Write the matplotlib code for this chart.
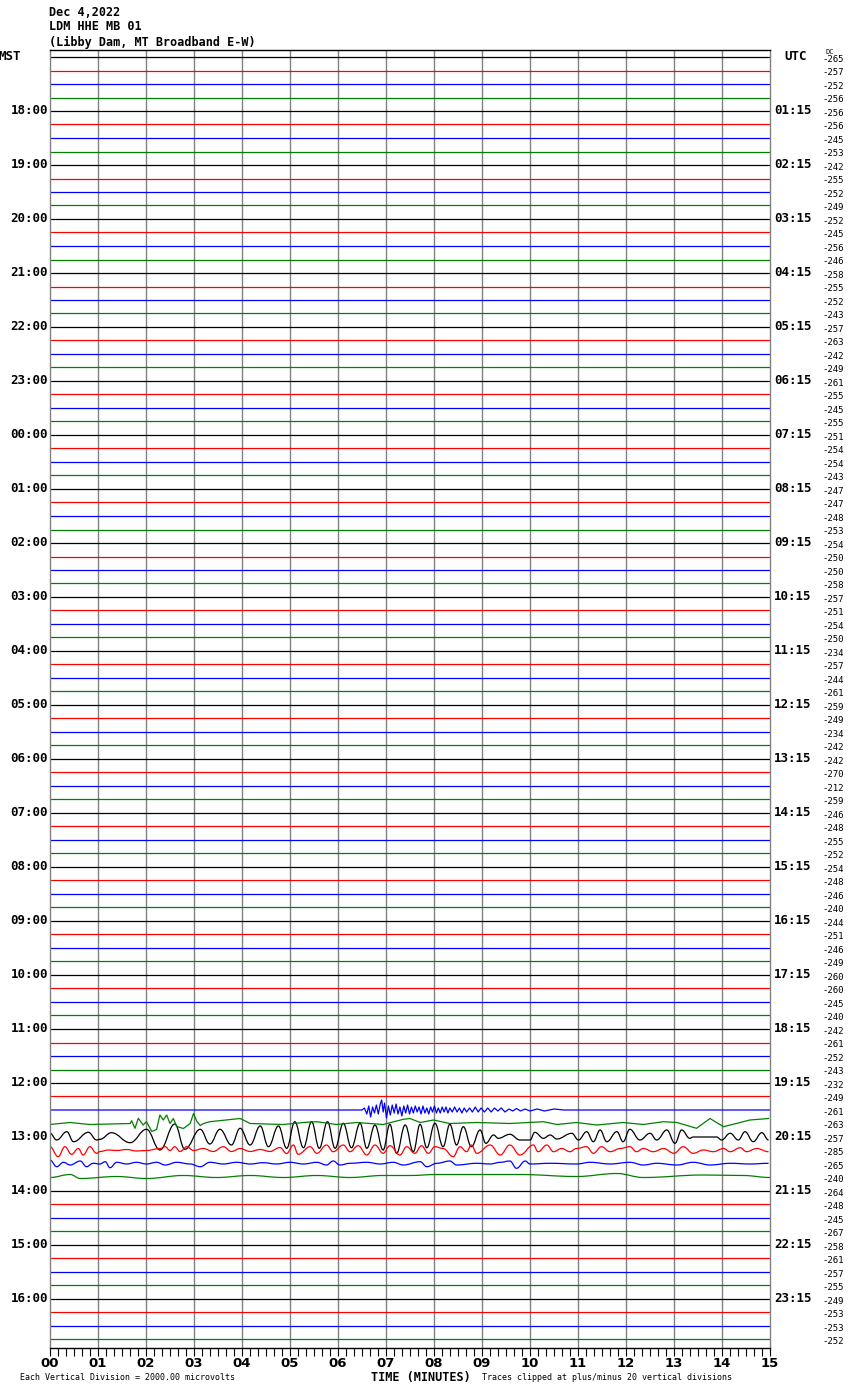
import matplotlib
matplotlib.use('Agg')
import matplotlib.pyplot as plt
import matplotlib.transforms as mtransforms
from matplotlib.path import Path
from matplotlib.patches import PathPatch
import numpy as np

# station / header text
title_lines = ['Dec 4,2022', 'LDM HHE MB 01', '(Libby Dam, MT Broadband E-W)']

n_rows = 96
trace_colors = ['black', 'red', 'blue', 'green']

left_labels = ['18:00', '19:00', '20:00', '21:00', '22:00', '23:00', '00:00', '01:00',
               '02:00', '03:00', '04:00', '05:00', '06:00', '07:00', '08:00', '09:00',
               '10:00', '11:00', '12:00', '13:00', '14:00', '15:00', '16:00']
right_labels = ['01:15', '02:15', '03:15', '04:15', '05:15', '06:15', '07:15', '08:15',
                '09:15', '10:15', '11:15', '12:15', '13:15', '14:15', '15:15', '16:15',
                '17:15', '18:15', '19:15', '20:15', '21:15', '22:15', '23:15']

# DC offset printed at the right of every trace
dc_values = [-265, -257, -252, -256, -256, -256, -245, -253, -242, -255, -252, -249,
             -252, -245, -256, -246, -258, -255, -252, -243, -257, -263, -242, -249,
             -261, -255, -245, -255, -251, -254, -254, -243, -247, -247, -248, -253,
             -254, -250, -250, -258, -257, -251, -254, -250, -234, -257, -244, -261,
             -259, -249, -234, -242, -242, -270, -212, -259, -246, -248, -255, -252,
             -254, -248, -246, -240, -244, -251, -246, -249, -260, -260, -245, -240,
             -242, -261, -252, -243, -232, -249, -261, -263, -257, -285, -265, -240,
             -264, -248, -245, -267, -258, -261, -257, -255, -249, -253, -253, -252]

blue_1230_t = [0, 6.50, 6.55, 6.60, 6.64, 6.68, 6.72, 6.76, 6.80, 6.84, 6.88, 6.91, 6.94,
               6.97, 7.01, 7.05, 7.09, 7.13, 7.17, 7.21, 7.25, 7.29, 7.33, 7.37, 7.41,
               7.45, 7.49, 7.53, 7.57, 7.61, 7.65, 7.69, 7.73, 7.77, 7.81, 7.85, 7.89,
               7.93, 7.97, 8.01, 8.05, 8.09, 8.13, 8.17, 8.21, 8.25, 8.29, 8.33, 8.38,
               8.43, 8.48, 8.53, 8.58, 8.63, 8.68, 8.74, 8.80, 8.86, 8.92, 8.98, 9.05,
               9.12, 9.19, 9.26, 9.33, 9.40, 9.48, 9.56, 9.64, 9.72, 9.80, 9.90, 10.0,
               10.15, 10.3, 10.5, 10.7, 15]
blue_1230_a = [0, 0, 2, -4, 4, -7, 3, -3, 5, -4, 6, 10, -2,
               7, -8, 4, -5, 5, -3, 6, -4, 3, -6, 4, -3,
               5, -4, 3, -3, 4, -2, 3, -4, 4, -3, 2, -4,
               3, -2, 4, -3, 2, -3, 3, -2, 3, -3, 2, -2,
               3, -2, 2, -3, 2, -2, 2, -2, 3, -2, 2, -2,
               2, -2, 2, -1, 2, -2, 1, -1, 1.5, -1, 1, -1,
               1, -1, 1, 0, 0]

green_1245_t = [0, 0.42, 0.83, 1.67, 1.70, 1.77, 1.84, 1.94, 2.01, 2.12, 2.22, 2.29, 2.36,
                2.43, 2.50, 2.57, 2.64, 2.78, 2.92, 2.99, 3.06, 3.13, 3.20, 3.33, 3.96,
                4.17, 4.86, 5.28, 5.56, 5.97, 6.39, 6.94, 7.36, 7.50, 7.71, 7.99, 8.33,
                8.89, 9.58, 10.28, 10.56, 10.97, 11.39, 11.94, 12.36, 12.78, 13.06, 13.47,
                13.75, 14.03, 14.30, 14.58, 14.97]
green_1245_a = [-1, 1, -1, 0, 2.8, -4.8, 5.2, -1.5, 1.8, -8, -6, 8.5, 3.5,
                8.5, 0, 5, -3, -5, 0, 10, 2, -2, 0, 1.8, 5,
                0, -1, 1, 1.8, -1, 1, -1, 4.2, 5, 1, 3.5, 0,
                1, 0, 1.8, -1, 1, -1.5, 1, -1, 1.8, 1, -4.8,
                5, -3.2, 0, 3.5, 5]

black_1300_t = [0, 0.14, 0.35, 0.49, 0.80, 0.97, 1.04, 1.28, 1.67, 2.01, 2.29, 2.60, 2.81,
                3.13, 3.33, 3.54, 3.78, 3.96, 4.17, 4.38, 4.55, 4.76, 4.93, 5.10, 5.28,
                5.45, 5.61, 5.78, 5.94, 6.11, 6.28, 6.46, 6.60, 6.77, 6.94, 7.08, 7.22,
                7.40, 7.57, 7.71, 7.85, 8.02, 8.19, 8.33, 8.47, 8.61, 8.78, 8.96, 9.08,
                9.24, 9.34, 9.58, 9.79, 10.0, 10.10, 10.28, 10.42, 10.56, 10.87, 11.01,
                11.18, 11.32, 11.46, 11.60, 11.81, 11.94, 12.08, 12.29, 12.50, 12.64,
                12.85, 13.02, 13.16, 13.33, 13.40, 13.89, 13.99, 14.17, 14.34, 14.48,
                14.65, 14.83, 14.97]
black_1300_a = [3.7, -3, 5.3, -4.7, 4.7, -3, -2.3, 4.3, -5.7, 7.7, -13, 13, -12.3,
                7.7, -7, 7.7, -8, 8.7, -8, 11, -9.7, 11, -11.3, 15.3, -10.7,
                15.3, -11.3, 15.3, -11.3, 13.7, -10.7, 13.7, -11.3, 12, -13, 12.7, -16.3,
                12, -14.7, 12.7, -10.7, 13.7, -9.7, 12.7, -8, 10.3, -9.7, 7, -6.3,
                2, -1.3, 2.7, -3, -3, 4.7, -1.3, 2, -2, 3.7, -3,
                5.3, -4.7, 7, -4.7, 5.3, -4.7, 7.7, -3, 3.7, -3,
                7, -6.3, 7, -1.3, 0, 0, -3, 3.7, -3, 5.3,
                -4.7, 4.3, -3]

red_1315_t = [0, 0.17, 0.31, 0.45, 0.59, 0.69, 0.83, 0.97, 1.04, 1.22, 1.39, 1.60, 1.80,
              2.01, 2.29, 2.40, 2.50, 2.60, 2.71, 2.85, 2.99, 3.19, 3.40, 3.61, 3.78,
              3.96, 4.17, 4.38, 4.58, 4.79, 4.93, 5.07, 5.17, 5.42, 5.56, 5.76, 5.90,
              6.11, 6.25, 6.42, 6.60, 6.77, 6.94, 7.08, 7.29, 7.43, 7.60, 7.74, 7.88,
              8.02, 8.19, 8.40, 8.54, 8.68, 8.78, 8.89, 9.17, 9.38, 9.58, 9.79, 10.07,
              10.17, 10.35, 10.49, 10.66, 10.83, 10.97, 11.18, 11.32, 11.49, 11.67,
              11.88, 12.08, 12.22, 12.36, 12.57, 12.78, 13.00, 13.19, 13.40, 13.61,
              13.82, 14.03, 14.17, 14.38, 14.51, 14.72, 14.97]
red_1315_a = [3.8, -6.2, 3.8, -3.8, 2, -4.5, 3.8, -2.8, -1, 0.5, 0, 1, -0.5,
              0, 2, 3.8, 0, 3.8, -1, 3.8, 0, 2, -1, 3.8, -1,
              2, -1, 1, -1, 3, -3, 5.5, -3.8, 3.8, -2.8, 5.5, -1.2,
              5.5, -1.2, 4.8, -4.5, 5.5, -2.8, 4.8, -4.5, 3.8, -2.8, 4.8, -2.8,
              3.8, 2, -6.2, 3.8, -1.2, 5.5, -2.8, 5.5, -4.5, 5.5, -4.5, 5.5,
              -1.2, 5.5, -1.2, 2, -1.2, 2, 3.8, -2.8, 3.8, -1.2,
              2, 3.8, -1.2, 2, -1.2, 2, -2.8, 3.8, -2.8, 0.5,
              -1.2, 2, -1.2, 2.8, -1.2, 2, -1.2]

blue_1330_t = [0, 0.14, 0.28, 0.42, 0.63, 0.76, 0.90, 1.04, 1.15, 1.25, 1.39, 1.60, 1.80,
               2.01, 2.22, 2.40, 2.64, 2.92, 3.13, 3.33, 3.61, 3.89, 4.17, 4.44, 4.72,
               5.00, 5.28, 5.56, 5.76, 5.90, 6.04, 6.25, 6.60, 6.88, 7.15, 7.36, 7.71,
               7.85, 8.06, 8.33, 8.47, 8.89, 9.17, 9.38, 9.58, 9.72, 9.90, 10.0, 10.42,
               10.97, 11.25, 11.67, 12.08, 12.36, 12.64, 13.06, 13.40, 13.75, 14.17,
               14.58, 14.97]
blue_1330_a = [4, -2.7, 1.7, -1, 3, -2.7, 0.7, 0, 2.3, -3.7, 1.7, 0, 1.7,
               0, 1.7, -1, 1.7, 0, -2.7, 1.7, 0, 1.7, 0, 1.3, 0,
               1.7, 0, 1.7, -1, 3, -1, 0.7, 1.7, 0, 1.7, -1, 2.3,
               -2.7, 0.7, 3, -1, 0.7, 0, 1.7, 3, -4.3, 3, 0, 0.7,
               0, 1.7, 0, 1.7, -1, 0.7, -1, 1.7, -1, 0.7,
               0, 0.7]

green_1345_t = [0, 0.42, 0.63, 1.39, 2.01, 2.78, 3.47, 4.17, 4.86, 5.56, 6.25, 6.94, 7.50,
                8.06, 9.79, 10.97, 11.81, 12.36, 13.61, 14.44, 15]
green_1345_a = [0, 3, -1, 1, -1, 2, 0, 2, 0, 2, 0, 2, 2,
                3, 3, 1, 4, 0, 2.5, 2, 0]

# row (0 = 17:00 MST) -> (times, amplitudes, smooth?)
event_rows = {78: (blue_1230_t, blue_1230_a, False),
              79: (green_1245_t, green_1245_a, False),
              80: (black_1300_t, black_1300_a, True),
              81: (red_1315_t, red_1315_a, True),
              82: (blue_1330_t, blue_1330_a, True),
              83: (green_1345_t, green_1345_a, True)}

W, H = 850, 1390
fig = plt.figure(figsize=(W / 100, H / 100), dpi=100)
row_px = 13.5
ax = fig.add_axes([50 / W, 1 - 1348 / H, 720 / W, (1348 - 50) / H])


def smooth_path(t, y):
    # bezier through the turning points, flat tangent at each one
    verts = [(t[0], y[0])]
    codes = [Path.MOVETO]
    for i in range(len(t) - 1):
        dt = t[i + 1] - t[i]
        verts += [(t[i] + 0.4 * dt, y[i]), (t[i + 1] - 0.4 * dt, y[i + 1]), (t[i + 1], y[i + 1])]
        codes += [Path.CURVE4] * 3
    return Path(verts, codes)


for r in range(n_rows):
    col = trace_colors[r % 4]
    if r in event_rows:
        t, a, smooth = event_rows[r]
        t = np.array(t)
        y = r - np.array(a) / row_px
        if smooth:
            ax.add_patch(PathPatch(smooth_path(t, y), fill=False, edgecolor=col, lw=0.9))
        else:
            ax.plot(t, y, color=col, lw=0.9)
    else:
        ax.plot([0, 15], [r, r], color=col, lw=0.9)

ax.set_xlim(0, 15)
ax.set_ylim((1348 - 57) / row_px, (50 - 57) / row_px)
ax.set_yticks([])
ax.set_xticks(np.arange(0, 16))
ax.set_xticks(np.arange(0, 15.01, 1 / 6), minor=True)
ax.set_xticklabels(['%02d' % m for m in range(16)], fontsize=9.5, fontweight='bold',
                   family='DejaVu Sans')
ax.tick_params(axis='x', which='both', direction='out', length=6, width=0.8,
               color='black', pad=0.5)
for m in range(1, 15):
    ax.axvline(m, color='#808080', lw=1, zorder=0)
ax.spines['left'].set_color('#808080')
ax.spines['right'].set_color('#808080')
ax.spines['top'].set_color('black')
ax.spines['bottom'].set_color('black')
for s in ax.spines.values():
    s.set_linewidth(1)

# labels along the sides, positioned in figure x / data y
tr = mtransforms.blended_transform_factory(fig.transFigure, ax.transData)
mono = 'DejaVu Sans Mono'
for i, lab in enumerate(left_labels):
    ax.text(48 / W, 4 * (i + 1), lab, transform=tr, ha='right', va='center',
            fontsize=9, fontweight='bold', family=mono, clip_on=False)
for i, lab in enumerate(right_labels):
    ax.text(774 / W, 4 * (i + 1), lab, transform=tr, ha='left', va='center',
            fontsize=9, fontweight='bold', family=mono, clip_on=False)
ax.text(-2 / W, 0, 'MST', transform=tr, ha='left', va='center', fontsize=9,
        fontweight='bold', family=mono, clip_on=False)
ax.text(796 / W, 0, 'UTC', transform=tr, ha='center', va='center', fontsize=9,
        fontweight='bold', family=mono, clip_on=False)
for r, v in enumerate(dc_values):
    ax.text(822 / W, r + 0.15, str(v), transform=tr, ha='left', va='center',
            fontsize=6.5, family=mono, clip_on=False)
fig.text(826 / W, 1 - 52 / H, 'DC', ha='left', va='center', fontsize=5, family=mono)

# header
for k, line in enumerate(title_lines):
    fig.text(49 / W, 1 - (12 + 15 * k) / H, line, ha='left', va='center',
             fontsize=8.5, fontweight='bold', family=mono)

# footer
fig.text(20 / W, 1 - 1377 / H, 'Each Vertical Division = 2000.00 microvolts',
         ha='left', va='center', fontsize=6, family=mono)
fig.text(421 / W, 1 - 1377 / H, 'TIME (MINUTES)', ha='center', va='center',
         fontsize=8.5, fontweight='bold', family=mono)
fig.text(482 / W, 1 - 1377 / H, 'Traces clipped at plus/minus 20 vertical divisions',
         ha='left', va='center', fontsize=6, family=mono)

fig.savefig('out.png', dpi=100, facecolor='white')
